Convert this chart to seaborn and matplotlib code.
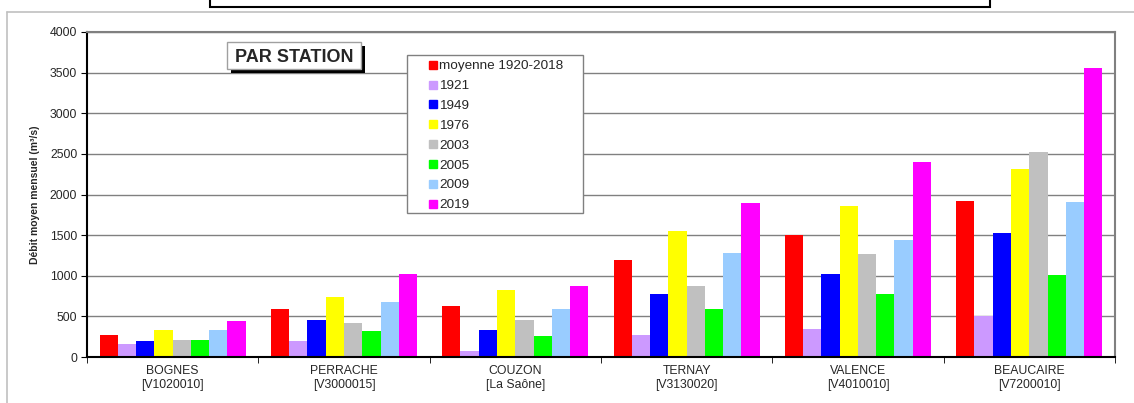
import pandas as pd
import seaborn as sns
import matplotlib.pyplot as plt
from matplotlib.patches import Rectangle
from matplotlib.lines import Line2D

# Données
stations = ['BOGNES\n[V1020010]', 'PERRACHE\n[V3000015]', 'COUZON\n[La Saône]',
            'TERNAY\n[V3130020]', 'VALENCE\n[V4010010]', 'BEAUCAIRE\n[V7200010]']
series = ['moyenne 1920-2018', '1921', '1949', '1976', '2003', '2005', '2009', '2019']
couleurs = ['#FF0000', '#CC99FF', '#0000FF', '#FFFF00', '#C0C0C0', '#00FF00', '#99CCFF', '#FF00FF']

moyenne = [275, 586, 628, 1197, 1506, 1917]
v1921 = [155, 200, 78, 275, 350, 500]
v1949 = [197, 455, 330, 780, 1017, 1532]
v1976 = [336, 742, 820, 1557, 1857, 2320]
v2003 = [209, 418, 450, 880, 1267, 2521]
v2005 = [209, 315, 258, 590, 772, 1006]
v2009 = [336, 677, 590, 1283, 1437, 1913]
v2019 = [447, 1017, 880, 1890, 2401, 3559]

valeurs = [moyenne, v1921, v1949, v1976, v2003, v2005, v2009, v2019]
rows = []
for s, vals in zip(series, valeurs):
    for st, v in zip(stations, vals):
        rows.append({'station': st, 'serie': s, 'debit': v})
df = pd.DataFrame(rows)

sns.set_style('white')
plt.rcParams['font.family'] = ['Liberation Sans', 'DejaVu Sans']

fig = plt.figure(figsize=(11.34, 4.03), dpi=100)
ax = fig.add_axes([0.0767, 0.1141, 0.9065, 0.8065])

sns.barplot(data=df, x='station', y='debit', hue='serie', hue_order=series,
            palette=couleurs, width=0.853, gap=0, ax=ax, errorbar=None,
            saturation=1, edgecolor='none', legend=False)

ax.set_ylim(0, 4000)
ax.set_xlim(-0.5, len(stations) - 0.5)
ax.set_yticks(range(0, 4001, 500))
ax.yaxis.grid(True, color='#808080', linewidth=1)
ax.set_axisbelow(True)
ax.set_xlabel('')
ax.set_ylabel('Débit moyen mensuel (m³/s)', fontsize=7.5, fontweight='bold', labelpad=7)
ax.tick_params(axis='y', labelsize=8.8, length=4, color='black', direction='out', left=True, pad=3)
ax.tick_params(axis='x', labelsize=8.8, length=0, pad=6)
ax.set_xticks([i - 0.5 for i in range(len(stations) + 1)], minor=True)
ax.tick_params(axis='x', which='minor', length=4, color='black', bottom=True)
for sp in ['left', 'bottom']:
    ax.spines[sp].set_color('black')
    ax.spines[sp].set_linewidth(1.5)
for sp in ['top', 'right']:
    ax.spines[sp].set_color('#808080')
    ax.spines[sp].set_linewidth(1.5)

# Légende
cadre = Rectangle((0.3113, 0.4422), 0.1716, 0.4862, transform=ax.transAxes,
                  facecolor='white', edgecolor='#808080', linewidth=1, zorder=5)
ax.add_patch(cadre)
handles = [Line2D([], [], marker='s', linestyle='none', markersize=5.8,
                  markerfacecolor=c, markeredgecolor=c) for c in couleurs]
leg = ax.legend(handles, series, loc='upper left', bbox_to_anchor=(0.3327, 0.914),
                frameon=False, fontsize=9.7, handlelength=0.6, handletextpad=0.15,
                labelspacing=0.55, borderaxespad=0, borderpad=0)
leg.set_zorder(6)

# Titre encadré avec ombre
ombre = Rectangle((0.1362 + 0.0039, 0.8852 - 0.0123), 0.1303, 0.0831, transform=ax.transAxes,
                  facecolor='black', edgecolor='black', linewidth=0, zorder=5)
boite = Rectangle((0.1362, 0.8852), 0.1303, 0.0831, transform=ax.transAxes,
                  facecolor='white', edgecolor='#A0A0A0', linewidth=1, zorder=6)
ax.add_patch(ombre)
ax.add_patch(boite)
ax.text(0.2014, 0.9086, 'PAR STATION', transform=ax.transAxes, fontsize=13,
        fontweight='bold', ha='center', va='baseline', zorder=7)

# Cadres extérieurs
fig.add_artist(Line2D([7 / 1134, 1], [1 - 12 / 403, 1 - 12 / 403], color='#C0C0C0', linewidth=1.2))
fig.add_artist(Line2D([7 / 1134, 7 / 1134], [0, 1 - 12 / 403], color='#C0C0C0', linewidth=1.2))
fig.add_artist(Rectangle((210 / 1134, 1 - 7 / 403), 780 / 1134, 0.05, transform=fig.transFigure,
                         facecolor='white', edgecolor='black', linewidth=1.5))

fig.savefig('out.png', dpi=100)
